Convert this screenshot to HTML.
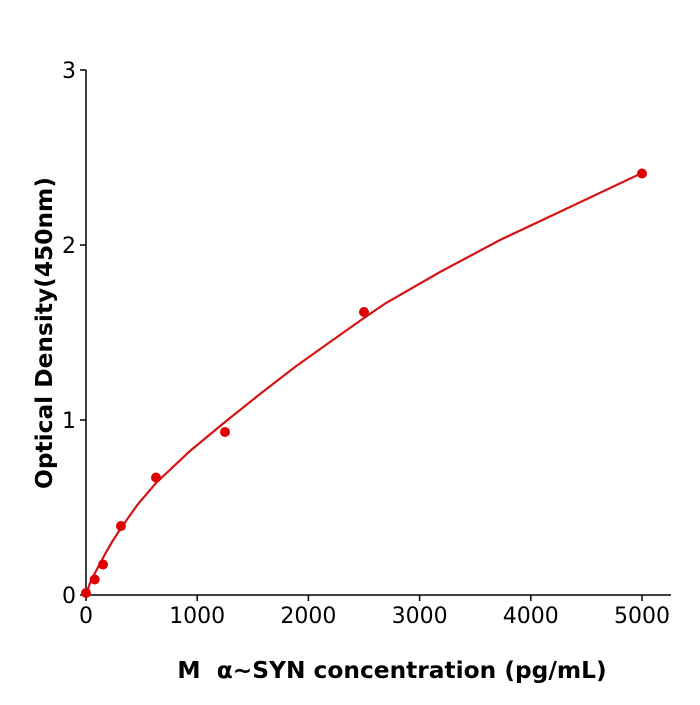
<!DOCTYPE html>
<html><head><style>body{margin:0;background:#fff}</style></head><body>
<svg width="700" height="700" xmlns="http://www.w3.org/2000/svg" font-family="'DejaVu Sans','Liberation Sans',sans-serif">
<rect width="700" height="700" fill="#fff"/>
<g stroke="#000" stroke-width="1.5" fill="none">
<line x1="86" y1="70" x2="86" y2="595"/>
<line x1="86" y1="595" x2="671" y2="595"/>
<line x1="80" y1="595" x2="86" y2="595"/><line x1="80" y1="420" x2="86" y2="420"/><line x1="80" y1="245" x2="86" y2="245"/><line x1="80" y1="70" x2="86" y2="70"/>
<line x1="86" y1="595" x2="86" y2="601"/><line x1="197.2" y1="595" x2="197.2" y2="601"/><line x1="308.4" y1="595" x2="308.4" y2="601"/><line x1="419.6" y1="595" x2="419.6" y2="601"/><line x1="530.8" y1="595" x2="530.8" y2="601"/><line x1="642" y1="595" x2="642" y2="601"/>
</g>
<g font-size="22" fill="#000" text-anchor="end">
<text x="76" y="603">0</text><text x="76" y="428">1</text><text x="76" y="253">2</text><text x="76" y="78">3</text>
</g>
<g font-size="22" fill="#000" text-anchor="middle">
<text x="86" y="623">0</text><text x="197.2" y="623">1000</text><text x="308.4" y="623">2000</text><text x="419.6" y="623">3000</text><text x="530.8" y="623">4000</text><text x="642" y="623">5000</text>
</g>
<text x="392" y="678" font-size="23.3" font-weight="bold" text-anchor="middle" xml:space="preserve">M  α~SYN concentration (pg/mL)</text>
<text transform="translate(52,333) rotate(-90)" font-size="23.3" font-weight="bold" text-anchor="middle">Optical Density(450nm)</text>
<path fill="none" stroke="#d61313" stroke-width="2.2" d="M86,595 L90,583 L96,571 L104,556 L112,542 L121,528 L138,504 L156,483 L190,451 L225,422 L260,394 L295,367 L330,342 L364,318 L386,303 L440,272 L500,240 L570,207 L642,173"/>
<g fill="#e00000">
<circle cx="86" cy="593" r="5"/><circle cx="94.7" cy="579.5" r="5"/><circle cx="103" cy="564.5" r="5"/><circle cx="121" cy="526" r="5"/><circle cx="156" cy="477.5" r="5"/><circle cx="225" cy="432" r="5"/><circle cx="364" cy="312" r="5"/><circle cx="642" cy="173.5" r="5"/>
</g>
</svg>
</body></html>
